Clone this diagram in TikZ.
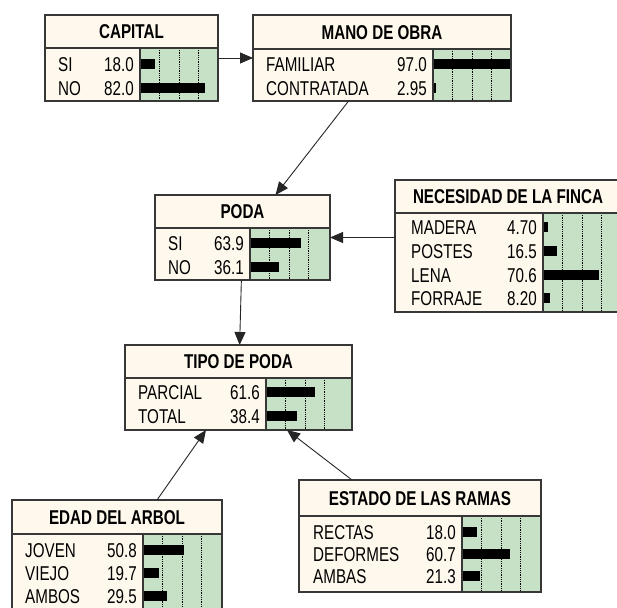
\documentclass[tikz,border=0pt]{standalone}
\usepackage{fontspec}
\newfontfamily\nar[FakeStretch=0.76]{Liberation Sans}
\usetikzlibrary{arrows.meta,fit,calc}
\definecolor{cream}{RGB}{255,248,237}
\definecolor{barbg}{RGB}{198,225,197}
\definecolor{bord}{RGB}{55,55,55}
\def\labx{13}
\tikzset{
  nbox/.style={fill=cream, inner sep=0pt, outer sep=0pt},
  sepl/.style={draw=bord, line width=1.6pt},
  gridl/.style={draw=black, densely dotted, line width=0.8pt},
  ttl/.style={font=\nar\bfseries\fontsize{20}{22}\selectfont, inner sep=0pt},
  txt/.style={font=\nar\fontsize{20}{22}\selectfont, inner sep=0pt},
  arr/.style={draw=black!85, line width=0.9pt, -{Triangle[length=13pt,width=11pt]}}
}
\newcommand\bnnode[9]{%
 \node[nbox, fit={(#2,#3) (#4,#5)}] (#1) {};
 \fill[barbg] (#7,#6) rectangle (#4,#5);
 \foreach \fr in {0.25,0.5,0.75} \draw[gridl] ({#7+\fr*78},#6) -- ({#7+\fr*78},#5);
 \draw[sepl] (#2,#6) -- (#4,#6);
 \draw[sepl] (#7,#6) -- (#7,#5);
 \node[ttl, anchor=base] at ({(#2+#4)/2},{(#3+#6)/2+7.2}) {#8};
 \foreach \lab/\val/\pct/\yy in {#9} {
   \node[txt, anchor=base west] at ({#2+\labx},{\yy+7.2}) {\lab};
   \node[txt, anchor=base east] at ({#7-6},{\yy+7.2}) {\val};
   \fill ({#7+1},{\yy-5}) rectangle ({#7+1+\pct*0.78},{\yy+5});
 }
 \draw[sepl] (#1.north west) rectangle (#1.south east);
}
\begin{document}
\begin{tikzpicture}[x=1pt,y=-1pt]
\useasboundingbox (0,0) rectangle (617,607);
\clip (0,0) rectangle (617,607);
\fill[white] (0,0) rectangle (617,607);

\bnnode{capital}{45}{15}{218}{101}{48}{140}{CAPITAL}{SI/18.0/18.0/64, NO/82.0/82.0/88}
\bnnode{mano}{253}{15}{511}{101}{49}{433}{MANO DE OBRA}{FAMILIAR/97.0/97.0/64, CONTRATADA/2.95/2.95/88}
\bnnode{poda}{155}{195}{330}{280}{228}{250}{PODA}{SI/63.9/63.9/243, NO/36.1/36.1/267}
\def\labx{16}
\bnnode{necesidad}{395}{180}{621}{312}{213}{543}{NECESIDAD DE LA FINCA}{MADERA/4.70/4.70/227, POSTES/16.5/16.5/251, LENA/70.6/70.6/275, FORRAJE/8.20/8.20/298}
\def\labx{13}
\bnnode{tipo}{125}{345}{352}{430}{378}{266}{TIPO DE PODA}{PARCIAL/61.6/61.6/392, TOTAL/38.4/38.4/416}
\bnnode{edad}{12}{500}{222}{615}{534}{143}{EDAD DEL ARBOL}{JOVEN/50.8/50.8/550, VIEJO/19.7/19.7/573, AMBOS/29.5/29.5/596}
\def\labx{14}
\bnnode{estado}{299}{480}{541}{592}{516}{462}{ESTADO DE LAS RAMAS}{RECTAS/18.0/18.0/532, DEFORMES/60.7/60.7/554, AMBAS/21.3/21.3/576}

\draw[arr] (capital) -- (mano);
\draw[arr] (mano) -- (poda);
\draw[arr] (necesidad.west |- poda.east) -- (poda.east);
\draw[arr] (poda) -- (tipo);
\draw[arr] ($(edad.north west)+(145,0)$) -- ($(tipo.south west)+(81,0)$);
\draw[arr] ($(estado.north west)+(53,0)$) -- ($(tipo.south west)+(162,0)$);
\end{tikzpicture}
\end{document}
